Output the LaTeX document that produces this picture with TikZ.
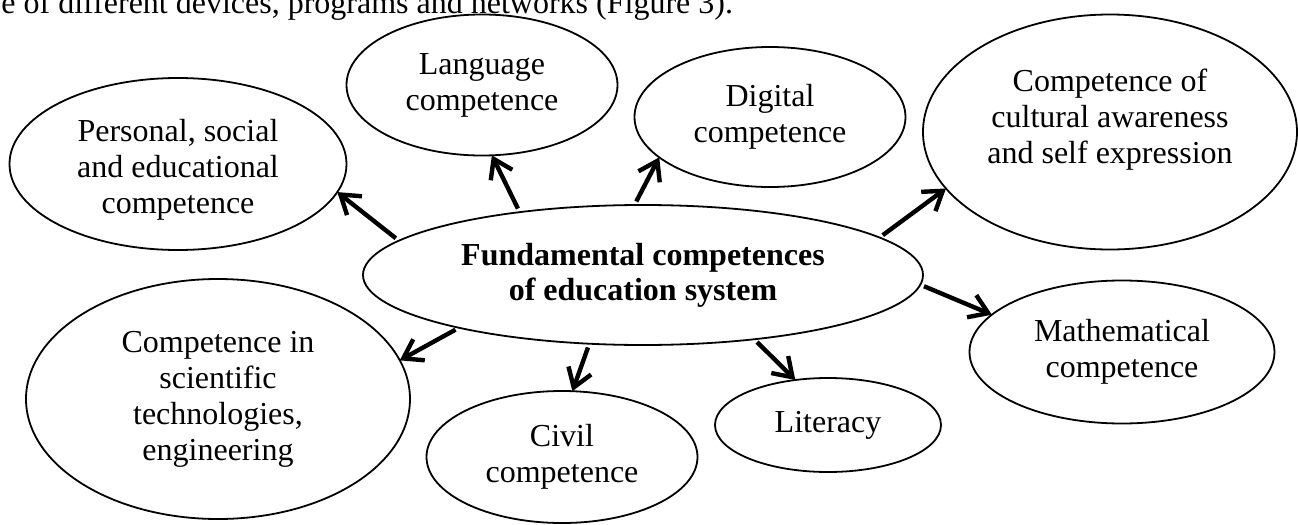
\documentclass[tikz,border=0pt]{standalone}
\usepackage{fontspec}
\setmainfont{Liberation Serif}
\usetikzlibrary{shapes.geometric,arrows.meta}
\begin{document}
\begin{tikzpicture}[x=0.5pt,y=-0.5pt]
        \tikzset{
            comp/.style={ellipse,draw=black,line width=0.9pt,inner sep=0pt,outer sep=0pt,align=center,font=\fontsize{16}{18}\selectfont},
            arr/.style={-{Straight Barb[length=9pt,width=12pt]},line width=2.2pt,shorten <=2pt}
        }
        \useasboundingbox (0,0) rectangle (1298,525);
        \node[anchor=base west,inner sep=0pt,font=\fontsize{16}{18}\selectfont] (cap) at (1,13) {e of different devices, programs and networks (Figure 3).};

        \node[comp,minimum width=280pt,minimum height=70pt,font=\bfseries\fontsize{16}{17.5}\selectfont] (fund) at (643,275) {Fundamental competences\\of education system};
        \node[comp,minimum width=168.5pt,minimum height=86pt,text height=53pt] (pers) at (178,164) {Personal, social\\and educational\\competence};
        \node[comp,minimum width=135.5pt,minimum height=70.5pt] (lang) at (482,85) {Language\\competence};
        \node[comp,minimum width=135.5pt,minimum height=70pt] (digi) at (770,117) {Digital\\competence};
        \node[comp,minimum width=187pt,minimum height=117.5pt,text depth=16pt] (cult) at (1110,132) {Competence of\\cultural awareness\\and self expression};
        \node[comp,minimum width=152.5pt,minimum height=71.5pt] (math) at (1122,352) {Mathematical\\competence};
        \node[comp,minimum width=113pt,minimum height=47pt] (lit) at (828,425) {Literacy};
        \node[comp,minimum width=135.5pt,minimum height=66pt] (civ) at (562,457) {Civil\\competence};
        \node[comp,minimum width=192pt,minimum height=120pt] (sci) at (218,399) {Competence in\\scientific\\technologies,\\engineering};

        \draw[arr] (fund.172) -- (pers.350);
        \draw[arr] (fund.153) -- (lang.278);
        \draw[arr] (fund.97) -- (digi.200);
        \draw[arr] (fund.9) -- (cult.199);
        \draw[arr] (fund.358) -- (math.164);
        \draw[arr] (fund.330) -- (lit.126);
        \draw[arr] (fund.232) -- (civ.81);
        \draw[arr] (fund.196) -- (sci.12);
    \end{tikzpicture}
\end{document}
